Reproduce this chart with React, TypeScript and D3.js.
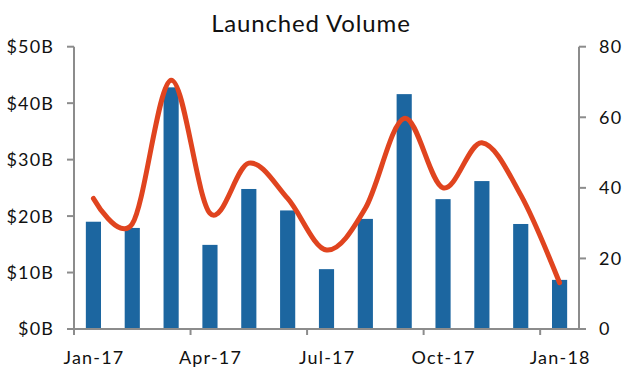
import React from "react";
import * as d3 from "d3";

const months = ["Jan-17","Feb-17","Mar-17","Apr-17","May-17","Jun-17","Jul-17","Aug-17","Sep-17","Oct-17","Nov-17","Dec-17","Jan-18"];
const volumeB = [19.0, 17.9, 42.8, 14.9, 24.8, 21.0, 10.6, 19.5, 41.6, 23.0, 26.2, 18.6, 8.7];
const countRight = [37, 29.8, 70.5, 32.8, 47, 37, 22.4, 34.2, 59.7, 40, 52.8, 38, 13.1];
const leftTicks = [0, 10, 20, 30, 40, 50];
const rightTicks = [0, 20, 40, 60, 80];
const xLabelMonths = ["Jan-17","Apr-17","Jul-17","Oct-17","Jan-18"];
const title = "Launched Volume";

const W = 628, H = 392;
const left = 74, right = 579, top = 46.7, bottom = 329;
const FONT = "Lato, 'Open Sans', sans-serif";
const AXIS = "#8c8c8c";
const LS = 1.2;

export default function App() {
  const x = d3.scaleBand().domain(months).range([left, right]).paddingInner(0).paddingOuter(0);
  const yL = d3.scaleLinear().domain([0, 50]).range([bottom, top]);
  const yR = d3.scaleLinear().domain([0, 80]).range([bottom, top]);
  const bw = x.bandwidth() * 0.39;
  const cx = (m: string) => (x(m) as number) + x.bandwidth() / 2;
  const line = d3.line<number>()
    .x((_, i) => cx(months[i]))
    .y((d) => yR(d))
    .curve(d3.curveCatmullRom.alpha(0));
  const tickXs = [0, 3, 6, 9, 12].map((i) => x(months[i]) as number);

  return (
    <svg width={W} height={H} style={{ position: "absolute", left: 0, top: 0, background: "#fff" }} fontFamily={FONT}>
      <text x={310.5 + 0.4} y={32.3} textAnchor="middle" fontSize={24} letterSpacing={0.85} fill="#111">{title}</text>
      {volumeB.map((v, i) => (
        <rect key={i} x={cx(months[i]) - bw / 2} y={yL(v)} width={bw} height={bottom - yL(v)} fill="#1c66a0" />
      ))}
      <path d={line(countRight) || ""} fill="none" stroke="#e0441f" strokeWidth={5} strokeLinecap="round" strokeLinejoin="round" />
      {/* left axis */}
      <line x1={left} x2={left} y1={top} y2={bottom} stroke={AXIS} strokeWidth={2} />
      {leftTicks.map((t) => (
        <g key={t}>
          <line x1={left - 7} x2={left} y1={yL(t)} y2={yL(t)} stroke={AXIS} strokeWidth={2} />
          <text x={53 + LS} y={yL(t)} dy="0.36em" textAnchor="end" fontSize={18} letterSpacing={LS} fill="#111">{`$${t}B`}</text>
        </g>
      ))}
      {/* right axis */}
      <line x1={right} x2={right} y1={top} y2={bottom} stroke={AXIS} strokeWidth={2} />
      {rightTicks.map((t) => (
        <g key={t}>
          <line x1={right} x2={right + 7} y1={yR(t)} y2={yR(t)} stroke={AXIS} strokeWidth={2} />
          <text x={599} y={yR(t)} dy="0.36em" textAnchor="start" fontSize={18} letterSpacing={LS} fill="#111">{t}</text>
        </g>
      ))}
      {/* bottom axis */}
      <line x1={left} x2={right} y1={bottom} y2={bottom} stroke={AXIS} strokeWidth={2} />
      {tickXs.map((tx, i) => (
        <line key={i} x1={tx} x2={tx} y1={bottom} y2={bottom + 6} stroke={AXIS} strokeWidth={2} />
      ))}
      {xLabelMonths.map((m) => (
        <text key={m} x={cx(m) + LS / 2} y={364} textAnchor="middle" fontSize={18} letterSpacing={LS} fill="#111">{m}</text>
      ))}
    </svg>
  );
}
